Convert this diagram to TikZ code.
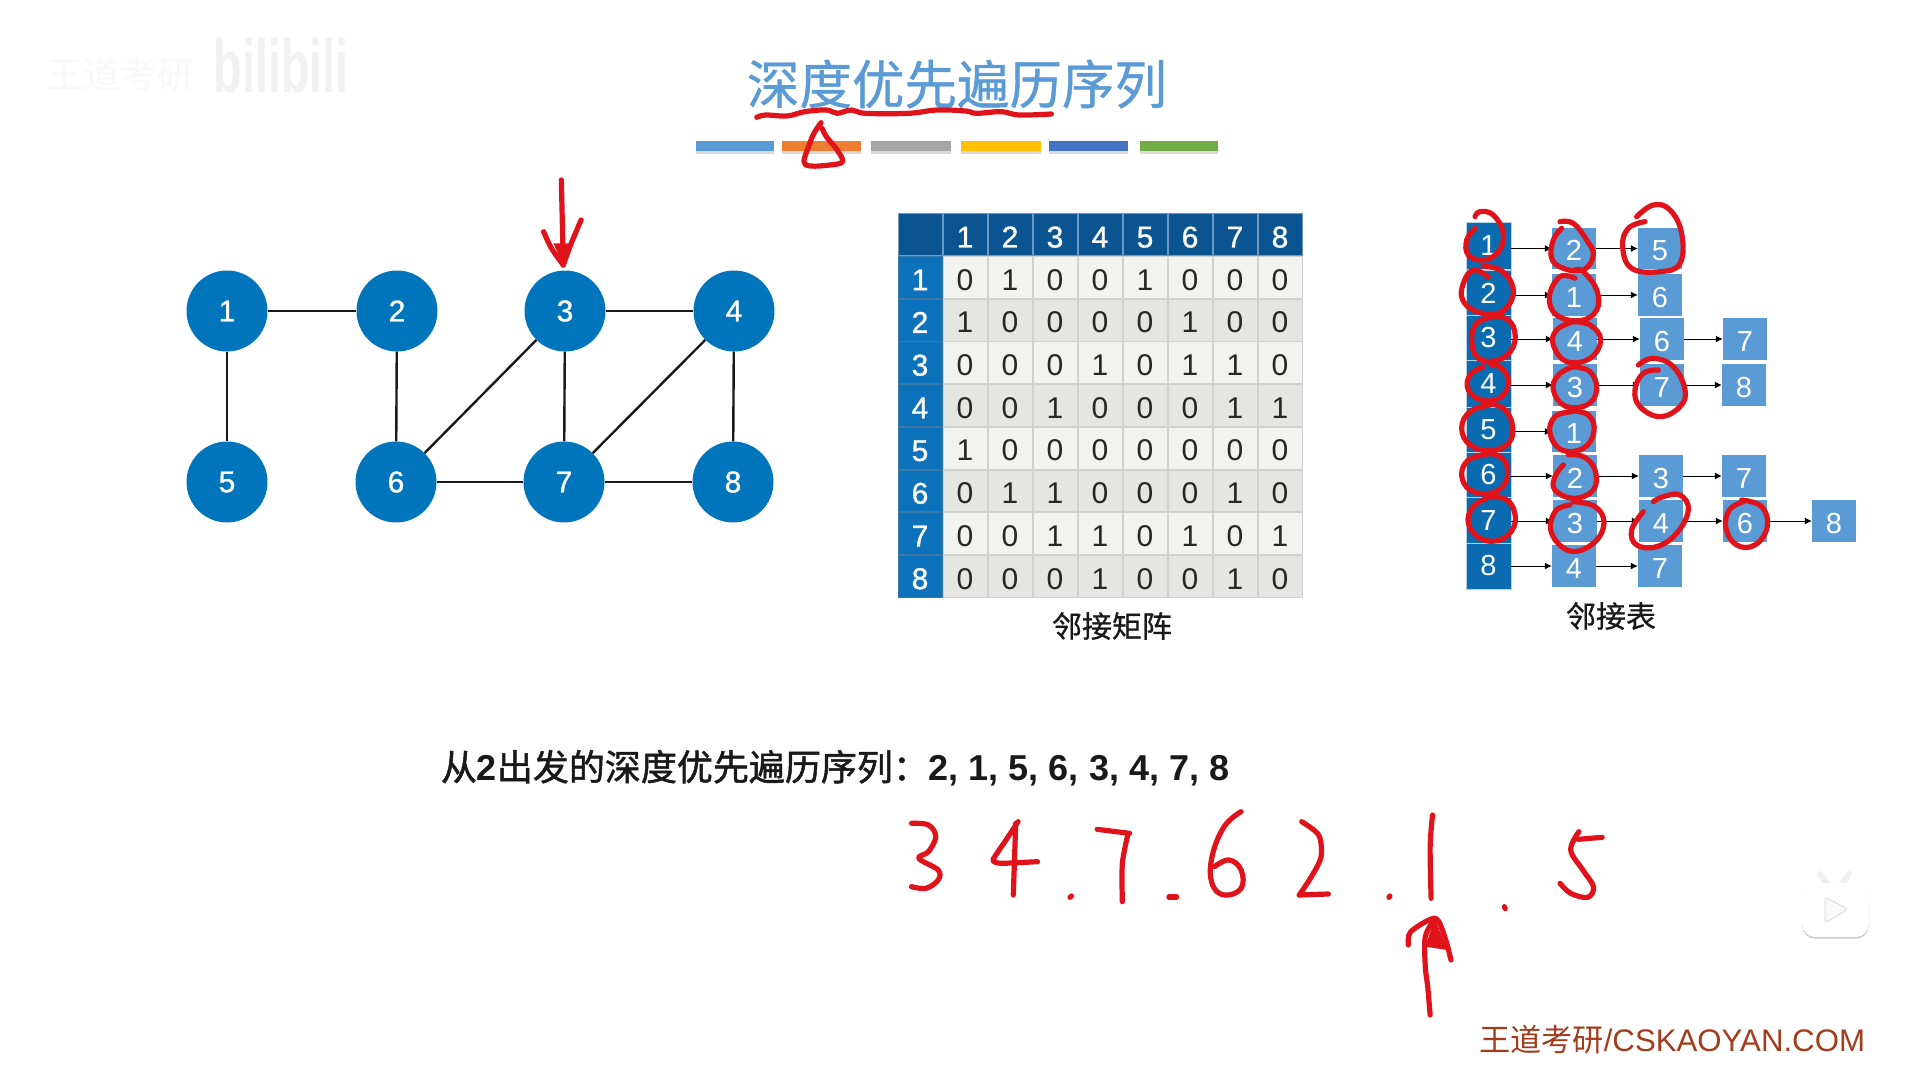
\documentclass[tikz,border=0pt]{standalone}
\usepackage{fontspec}
\setmainfont{Liberation Sans}
\newfontfamily\cjk{Noto Sans CJK SC}[FakeBold=.8]
\newfontfamily\cjkthin{Noto Sans CJK SC}
\newfontfamily\cjkstrong{Noto Sans CJK SC}[FakeBold=1.4]
\newfontfamily\digitbold{Liberation Sans}[FakeBold=1]
\usepackage{xcolor}
\usepackage{tikz}
\usetikzlibrary{arrows.meta,matrix,shadows}
\definecolor{titleblue}{HTML}{5B9BD5}
\definecolor{barorange}{HTML}{ED7D31}
\definecolor{bargray}{HTML}{A5A5A5}
\definecolor{baryellow}{HTML}{FFC000}
\definecolor{barblue}{HTML}{4472C4}
\definecolor{bargreen}{HTML}{70AD47}
\definecolor{nodeblue}{HTML}{0075BC}
\definecolor{headdark}{HTML}{0A5591}
\definecolor{headside}{HTML}{0B72BB}
\definecolor{headlist}{HTML}{0A6BB0}
\definecolor{celllight}{HTML}{F2F2F1}
\definecolor{celldark}{HTML}{E5E5E3}
\definecolor{cellline}{HTML}{D0D0D0}
\definecolor{inkred}{HTML}{E0121A}
\definecolor{markbrown}{HTML}{A23C1C}
\tikzset{
  vertex/.style={circle, fill=nodeblue, text=white, inner sep=0pt, minimum size=81pt, font=\fontsize{30}{36}\selectfont\digitbold},
  edgeline/.style={draw=black!90, line width=2.4pt},
  bar/.style={rectangle, inner sep=0pt, minimum width=79pt, minimum height=10pt, drop shadow={shadow xshift=0pt, shadow yshift=-3pt, opacity=.3}},
  cell/.style={rectangle, draw=cellline, line width=.8pt, fill=celllight, text=black!85, inner sep=0pt, outer sep=0pt, minimum width=44.2pt, minimum height=41.9pt, text height=25.5pt, text depth=0pt, anchor=center, font=\fontsize{30}{36}\selectfont},
  tophead/.style={draw=headdark!60!white, fill=headdark, text=white, font=\fontsize{30}{36}\selectfont\digitbold},
  sidehead/.style={draw=headdark!80, fill=headside, text=white, font=\fontsize{30}{36}\selectfont\digitbold},
  listhead/.style={rectangle, draw=white!70!headlist, line width=.5pt, fill=headlist, text=white, inner sep=0pt, minimum width=45pt, minimum height=46.5pt, font=\fontsize{29}{35}\selectfont},
  listcell/.style={rectangle, fill=titleblue, text=white, inner sep=0pt, minimum width=44pt, minimum height=41.5pt, text height=24.5pt, text depth=0pt, font=\fontsize{29}{35}\selectfont},
  listarrow/.style={-{Latex[length=7pt,width=7pt]}, black, line width=1pt},
  caption/.style={inner sep=0pt, font=\fontsize{30}{36}\selectfont\cjk, text=black!90},
  ink/.style={draw=inkred, line width=5.2pt, line cap=round, line join=round}
}
\begin{document}
\begin{tikzpicture}[x=1pt,y=-1pt]
  \useasboundingbox (0,0) rectangle (1914,1066);

  % faint marks of the video
  \node[inner sep=0pt, text=gray!5, font=\fontsize{37}{44}\selectfont\cjkthin] (markleft) at (120,74) {王道考研};
  \node[inner sep=0pt, text=gray!11, xscale=.62, font=\fontsize{75}{90}\selectfont\bfseries] (marklogo) at (281,66) {bilibili};

  % title
  \node[inner sep=0pt, text=titleblue, font=\fontsize{52.5}{62}\selectfont\cjk] (title) at (957,84) {深度优先遍历序列};
  \node[bar, fill=titleblue, minimum width=78pt] (bar1) at (735,145.5) {};
  \node[bar, fill=barorange] (bar2) at (821.5,145.5) {};
  \node[bar, fill=bargray, minimum width=80pt] (bar3) at (911,145.5) {};
  \node[bar, fill=baryellow, minimum width=80pt] (bar4) at (1001,145.5) {};
  \node[bar, fill=barblue] (bar5) at (1088.5,145.5) {};
  \node[bar, fill=bargreen, minimum width=78pt] (bar6) at (1179,145.5) {};

  % graph
  \node[vertex] (v1) at (227,311) {1};
  \node[vertex] (v2) at (397,311) {2};
  \node[vertex] (v3) at (565,311) {3};
  \node[vertex] (v4) at (734,311) {4};
  \node[vertex] (v5) at (227,482) {5};
  \node[vertex] (v6) at (396,482) {6};
  \node[vertex] (v7) at (564,482) {7};
  \node[vertex] (v8) at (733,482) {8};

  \draw[edgeline] (v1) -- (v2);
  \draw[edgeline] (v3) -- (v4);
  \draw[edgeline] (v6) -- (v7);
  \draw[edgeline] (v7) -- (v8);
  \draw[edgeline] (v1) -- (v5);
  \draw[edgeline] (v2) -- (v6);
  \draw[edgeline] (v3) -- (v7);
  \draw[edgeline] (v4) -- (v8);
  \draw[edgeline] (v3) -- (v6);
  \draw[edgeline] (v4) -- (v7);

  % adjacency matrix
  \matrix (adjm) [matrix of nodes, nodes in empty cells, inner sep=0pt, outer sep=0pt, column sep=0pt, row sep=0pt,
    nodes={cell},
    row 1/.style={nodes={tophead}},
    row 3/.style={nodes={fill=celldark}}, row 5/.style={nodes={fill=celldark}},
    row 7/.style={nodes={fill=celldark}}, row 9/.style={nodes={fill=celldark}}] at (1100,405.5) {
      & 1 & 2 & 3 & 4 & 5 & 6 & 7 & 8 \\
    |[sidehead]| 1 & 0 & 1 & 0 & 0 & 1 & 0 & 0 & 0 \\
    |[sidehead]| 2 & 1 & 0 & 0 & 0 & 0 & 1 & 0 & 0 \\
    |[sidehead]| 3 & 0 & 0 & 0 & 1 & 0 & 1 & 1 & 0 \\
    |[sidehead]| 4 & 0 & 0 & 1 & 0 & 0 & 0 & 1 & 1 \\
    |[sidehead]| 5 & 1 & 0 & 0 & 0 & 0 & 0 & 0 & 0 \\
    |[sidehead]| 6 & 0 & 1 & 1 & 0 & 0 & 0 & 1 & 0 \\
    |[sidehead]| 7 & 0 & 0 & 1 & 1 & 0 & 1 & 0 & 1 \\
    |[sidehead]| 8 & 0 & 0 & 0 & 1 & 0 & 0 & 1 & 0 \\
  };
  \node[caption] (adjmname) at (1112,626) {邻接矩阵};

  % adjacency list
  \node[listhead] (h1) at (1488.5,245.5) {1};
  \node[listhead] (h2) at (1488.5,293) {2};
  \node[listhead] (h3) at (1488.5,338) {3};
  \node[listhead] (h4) at (1488.5,383.5) {4};
  \node[listhead] (h5) at (1488.5,430) {5};
  \node[listhead] (h6) at (1488.5,475) {6};
  \node[listhead] (h7) at (1488.5,520.5) {7};
  \node[listhead] (h8) at (1488.5,566) {8};

  \node[listcell] (a12) at (1574,248.5) {2};
  \node[listcell] (a22) at (1574,295) {1};
  \node[listcell] (a32) at (1575,339) {4};
  \node[listcell] (a42) at (1575,385) {3};
  \node[listcell] (a52) at (1574,431.5) {1};
  \node[listcell] (a62) at (1575,476) {2};
  \node[listcell] (a72) at (1575,521) {3};
  \node[listcell] (a82) at (1574,566) {4};

  \node[listcell] (a13) at (1660,248.5) {5};
  \node[listcell] (a23) at (1660,295) {6};
  \node[listcell] (a33) at (1662,339) {6};
  \node[listcell] (a43) at (1662,385) {7};
  \node[listcell] (a63) at (1661,476) {3};
  \node[listcell] (a73) at (1661,521) {4};
  \node[listcell] (a83) at (1660,566) {7};

  \node[listcell] (a34) at (1745,339) {7};
  \node[listcell] (a44) at (1744,385) {8};
  \node[listcell] (a64) at (1744,476) {7};
  \node[listcell] (a74) at (1745,521) {6};
  \node[listcell] (a75) at (1834,521) {8};

  \draw[listarrow] (h1.east |- a12) -- (a12);
  \draw[listarrow] (h2.east |- a22) -- (a22);
  \draw[listarrow] (h3.east |- a32) -- (a32);
  \draw[listarrow] (h4.east |- a42) -- (a42);
  \draw[listarrow] (h5.east |- a52) -- (a52);
  \draw[listarrow] (h6.east |- a62) -- (a62);
  \draw[listarrow] (h7.east |- a72) -- (a72);
  \draw[listarrow] (h8.east |- a82) -- (a82);
  \draw[listarrow] (a12) -- (a13);
  \draw[listarrow] (a22) -- (a23);
  \draw[listarrow] (a32) -- (a33);
  \draw[listarrow] (a42) -- (a43);
  \draw[listarrow] (a62) -- (a63);
  \draw[listarrow] (a72) -- (a73);
  \draw[listarrow] (a82) -- (a83);
  \draw[listarrow] (a33) -- (a34);
  \draw[listarrow] (a43) -- (a44);
  \draw[listarrow] (a63) -- (a64);
  \draw[listarrow] (a73) -- (a74);
  \draw[listarrow] (a74) -- (a75);
  \node[caption] (adjlname) at (1611,616) {邻接表};

  % sequence text
  \node[inner sep=0pt, text=black!90, font=\fontsize{36}{43}\selectfont\bfseries] (seqline) at (835,768) {{\mdseries\cjkstrong 从}2{\mdseries\cjkstrong 出发的深度优先遍历序列：}2, 1, 5, 6, 3, 4, 7, 8};
  \node[inner sep=0pt, text=markbrown, font=\fontsize{31.2}{37}\selectfont] (markright) at (1672,1040) {{\cjkthin 王道考研}/CSKAOYAN.COM};

  % player icon
  \draw[draw=gray!12, line width=6pt, line cap=round] (1820,874) -- (1827,884);
  \draw[draw=gray!12, line width=6pt, line cap=round] (1849,874) -- (1842,884);
  \node[rectangle, rounded corners=13pt, fill=white, inner sep=0pt, minimum width=67pt, minimum height=54pt, drop shadow={shadow xshift=0pt, shadow yshift=-1.5pt, opacity=.45}] (tvbody) at (1835.5,910) {};
  \draw[draw=gray!25, fill=gray!4, line width=1pt, line join=round, rounded corners=3pt] (1825,897) -- (1848,909) -- (1825,923) -- cycle;

  % red strokes: title
  \begin{scope}[shift={(680,30)},x=.3571pt,y=-.3333pt]
    \draw[ink] plot[smooth,tension=.6] coordinates {(215,262) (240,255) (300,258) (350,245) (410,240) (440,250) (480,240) (520,250) (640,250) (720,240) (800,243) (830,250) (900,245) (950,255) (1040,252)};
    \draw[ink] plot[smooth,tension=.6] coordinates {(395,278) (375,310) (360,350) (347,395) (365,408) (420,405) (455,395) (440,360) (410,320) (398,295)};
  \end{scope}

  % red strokes: start arrow at vertex 3
  \begin{scope}[shift={(170,160)},x=.3953pt,y=-.3333pt]
    \draw[ink] (990,60) -- (995,315);
    \draw[ink] plot[smooth,tension=.5] coordinates {(945,215) (965,265) (995,315)};
    \draw[ink] plot[smooth,tension=.5] coordinates {(1040,180) (1015,250) (995,315)};
    \fill[inkred] (970,250) -- (995,315) -- (1015,250) -- cycle;
  \end{scope}

  % red strokes: adjacency list
  \begin{scope}[shift={(1440,190)},x=.3333pt,y=-.3333pt]
    \draw[ink] plot[smooth,tension=.7] coordinates {(105,115) (80,150) (85,195) (130,210) (175,185) (190,130) (160,75) (120,65) (105,80)};
    \draw[ink] plot[smooth,tension=.7] coordinates {(145,262) (100,240) (70,280) (68,330) (110,365) (175,370) (215,330) (215,280) (180,240) (130,228)};
    \draw[ink] plot[smooth,tension=.7] coordinates {(160,380) (110,400) (95,450) (115,505) (175,510) (220,470) (220,410) (185,380) (150,382)};
    \draw[ink] plot[smooth,tension=.7] coordinates {(130,530) (90,555) (85,600) (130,632) (185,620) (205,575) (185,535) (150,522)};
    \draw[ink] plot[smooth,tension=.7] coordinates {(150,645) (90,665) (65,715) (90,765) (150,782) (205,760) (218,710) (195,660) (150,640)};
    \draw[ink] plot[smooth,tension=.7] coordinates {(135,795) (85,810) (65,855) (90,900) (150,910) (195,880) (200,825) (170,795) (130,792)};
    \draw[ink] plot[smooth,tension=.7] coordinates {(150,920) (100,950) (85,1000) (120,1045) (180,1050) (222,1010) (220,955) (190,925) (145,918)};

    \draw[ink] plot[smooth,tension=.7] coordinates {(360,95) (400,100) (440,150) (460,195) (430,240) (370,235) (335,205) (340,150) (365,115)};
    \draw[ink] plot[smooth,tension=.7] coordinates {(405,265) (360,260) (328,320) (350,375) (420,392) (470,360) (470,300) (430,245) (405,240)};
    \draw[ink] plot[smooth,tension=.7] coordinates {(400,395) (350,420) (340,465) (380,515) (450,505) (482,450) (450,405) (395,395)};
    \draw[ink] plot[smooth,tension=.7] coordinates {(400,530) (355,555) (340,600) (375,648) (440,645) (470,600) (450,545) (395,530)};
    \draw[ink] plot[smooth,tension=.7] coordinates {(395,665) (345,680) (330,730) (365,780) (430,775) (462,725) (445,675) (390,662)};
    \draw[ink] plot[smooth,tension=.7] coordinates {(370,825) (345,860) (345,900) (400,925) (460,900) (465,840) (430,800) (385,795)};
    \draw[ink] plot[smooth,tension=.7] coordinates {(390,945) (345,965) (335,1030) (390,1083) (460,1060) (492,1000) (465,950) (400,935)};

    \draw[ink] plot[smooth,tension=.7] coordinates {(615,95) (565,115) (548,170) (575,235) (660,245) (720,220) (725,130) (690,60) (640,45) (590,80)};
    \draw[ink] plot[smooth,tension=.7] coordinates {(655,540) (610,550) (585,600) (600,650) (660,680) (720,650) (735,600) (700,530) (640,505) (595,525)};
    \draw[ink] plot[smooth,tension=.7] coordinates {(610,965) (575,1020) (590,1065) (650,1070) (710,1030) (745,960) (720,915) (670,920) (640,935)};
    \draw[ink] plot[smooth,tension=.7] coordinates {(910,935) (868,960) (858,1015) (890,1065) (945,1065) (982,1010) (965,950) (905,930)};
  \end{scope}

  % red strokes: handwritten order
  \begin{scope}[shift={(880,780)},x=.4847pt,y=-.3333pt]
    \draw[ink] plot[smooth,tension=.6] coordinates {(65,130) (100,135) (115,170) (100,215) (80,235) (120,270) (120,300) (95,325) (65,320)};
    \draw[ink] plot[smooth,tension=.3] coordinates {(285,125) (260,180) (233,240) (250,250) (325,245)};
    \draw[ink] (280,130) -- (275,345);
    \draw[ink] (395,348) -- (392,352);
    \draw[ink] (448,148) -- (515,160);
    \draw[ink] plot[smooth,tension=.5] coordinates {(512,160) (500,250) (500,365)};
    \draw[ink] (596,351) -- (612,351);
    \draw[ink] plot[smooth,tension=.7] coordinates {(745,95) (710,140) (685,230) (685,310) (710,345) (745,325) (745,270) (720,240) (690,260)};
    \draw[ink] plot[smooth,tension=.5] coordinates {(870,125) (905,165) (910,230) (890,290) (865,345)};
    \draw[ink] (865,345) -- (925,342);
    \draw[ink] (1052,348) -- (1050,352);
    \draw[ink] plot[smooth,tension=.5] coordinates {(1140,105) (1135,200) (1137,355)};
    \draw[ink] (1288,380) -- (1290,386);
    \draw[ink] (1490,172) -- (1440,178);
    \draw[ink] plot[smooth,tension=.6] coordinates {(1442,155) (1425,210) (1450,270) (1472,320) (1460,352) (1425,340) (1403,310)};
    \draw[ink] plot[smooth,tension=.5] coordinates {(1135,705) (1130,620) (1125,560) (1125,470) (1145,415)};
    \draw[ink] plot[smooth,tension=.5] coordinates {(1090,495) (1095,455) (1145,415) (1165,470) (1178,540)};
    \fill[inkred] (1145,415) -- (1125,500) -- (1170,510) -- cycle;
  \end{scope}
\end{tikzpicture}
\end{document}
